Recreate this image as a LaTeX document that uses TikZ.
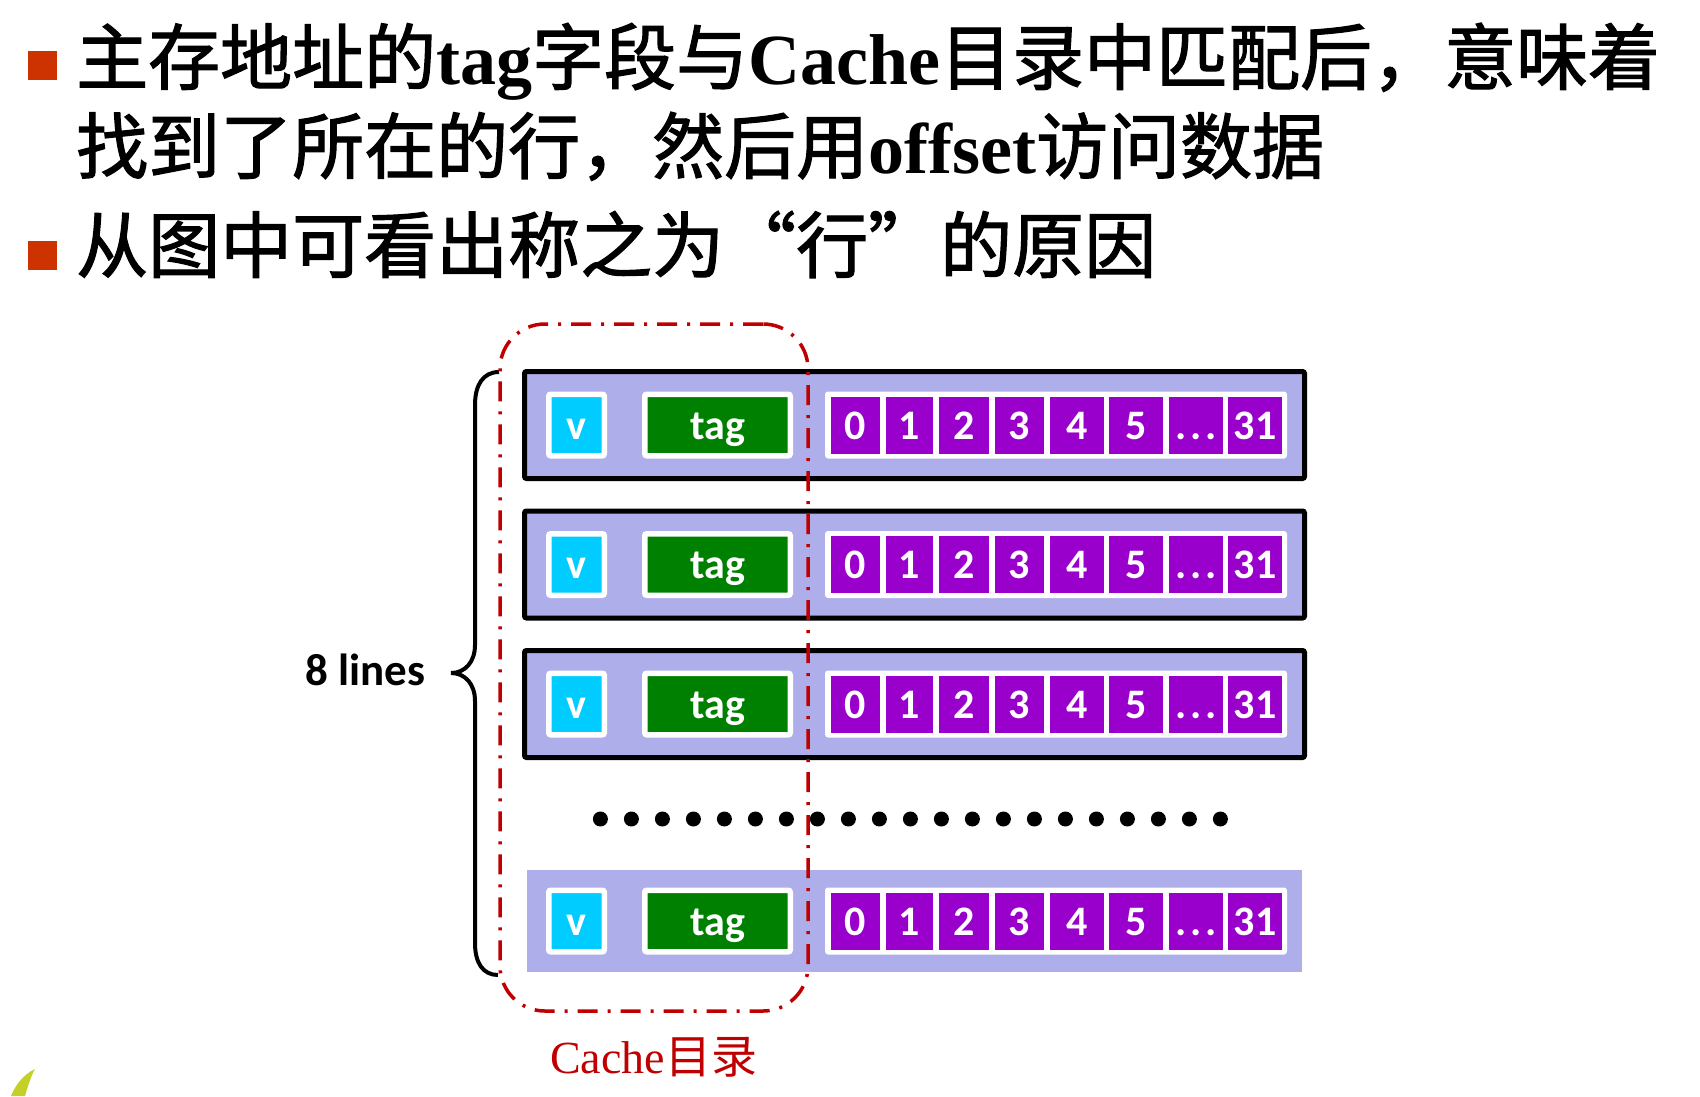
\documentclass[tikz,border=0pt]{standalone}
\usepackage{fontspec}
\setmainfont{Liberation Serif}
\newfontfamily\cjk{Noto Sans CJK SC}[FakeBold=1.6]
\newfontfamily\cjkplain{Noto Sans CJK SC}
\newfontfamily\calfont{Carlito}
\newcommand\latb[1]{{\rmfamily\bfseries #1}}
\newcommand\threedots{.\hspace{4pt}.\hspace{4pt}.}
\definecolor{bulletred}{RGB}{204,51,0}
\definecolor{lav}{RGB}{174,174,234}
\definecolor{vcyan}{RGB}{0,204,255}
\definecolor{tgreen}{RGB}{0,128,0}
\definecolor{cpurple}{RGB}{153,0,204}
\definecolor{dred}{RGB}{192,0,0}
\definecolor{leaf}{RGB}{196,208,40}
\begin{document}
\begin{tikzpicture}[x=1pt,y=-1pt,
 rowbox/.style={draw=black, line width=5pt, fill=lav, rounded corners=2pt, minimum width=780pt, minimum height=107pt, inner sep=0pt},
 rowbare/.style={fill=lav, minimum width=775pt, minimum height=102pt, inner sep=0pt},
 lbl/.style={font=\calfont\bfseries\fontsize{42}{42}\selectfont, text=white, text height=28.5pt, text depth=0pt, inner sep=0pt},
 vbox/.style={lbl, fill=vcyan, draw=white, line width=5.5pt, rounded corners=2pt, minimum width=55.5pt, minimum height=61.5pt},
 tagbox/.style={lbl, fill=tgreen, draw=white, line width=5.5pt, rounded corners=2pt, minimum width=145.5pt, minimum height=61.5pt},
 grpbox/.style={fill=white, rounded corners=3pt, minimum width=462pt, minimum height=67pt, inner sep=0pt},
 cell/.style={lbl, fill=cpurple, minimum height=57pt, minimum width=#1},
 bullet/.style={fill=bulletred, minimum size=29pt, inner sep=0pt},
 title/.style={anchor=base west, inner sep=0pt, font=\fontsize{72}{86}\selectfont},
 dirbox/.style={draw=dred, line width=3.5pt, rounded corners=45pt, dash pattern=on 20pt off 10pt on 3pt off 10pt, minimum width=308pt, minimum height=687pt, inner sep=0pt},
 cacheline/.pic={
   \node[vbox] (-v) at (576.5,0) {v};
   \node[tagbox] (-tag) at (717.5,0) {tag};
   \node[grpbox] (-grp) at (1056,0) {};
   \foreach \cx/\w/\t [count=\i] in {855.5/49/0, 909.5/47/1, 964/50/2, 1019.5/49/3, 1077/54/4, 1136/54/5, 1196/54/\threedots, 1255/54/31}
     \node[cell=\w pt] (-c\i) at (\cx,0) {\t};
 }
]
\useasboundingbox (0,0) rectangle (1700,1096);

% title text
\node[bullet] (b1) at (42,65.5) {};
\node[bullet] (b2) at (42,255) {};
\node[title] (t1) at (76,84) {\cjk 主存地址的\latb{tag}字段与\latb{Cache}目录中匹配后，意味着};
\node[title] (t2) at (76,173) {\cjk 找到了所在的行，然后用\latb{offset}访问数据};
\node[title] (t3) at (76,272) {\cjk 从图中可看出称之为\makebox[72pt][r]{“}行\makebox[72pt][l]{”}的原因};

% rows
\node[rowbox] (row1) at (914.5,425) {};
\node[rowbox] (row2) at (914.5,564.5) {};
\node[rowbox] (row3) at (914.5,704) {};
\node[rowbare] (row4) at (914.5,921) {};
\pic (r1) at (0,425) {cacheline};
\pic (r2) at (0,564.5) {cacheline};
\pic (r3) at (0,704) {cacheline};
\pic (r4) at (0,921) {cacheline};

% dots
\foreach \i in {0,...,20}
  \fill (600.4+31*\i,819) circle (7.5pt);

% brace
\draw[line width=4pt] (499,372) .. controls (483,372) and (475,385) .. (475,405)
  -- (475,645) .. controls (475,662) and (465,673) .. (451,673)
  .. controls (465,673) and (475,684) .. (475,701)
  -- (475,943) .. controls (475,963) and (483,975) .. (498,975);
\node[anchor=base west, inner sep=0pt, font=\calfont\bfseries\fontsize{45}{45}\selectfont] (lines) at (305,685) {8 lines};

% Cache directory
\node[dirbox] (dir) at (654,667.5) {};
\node[anchor=base west, inner sep=0pt, text=dred, font=\fontsize{46}{46}\selectfont] (dirlbl) at (550,1073) {Cache{\cjkplain 目录}};

% leaf decoration
\fill[leaf] (35,1069) .. controls (22,1075) and (14,1088) .. (11,1096) -- (25,1096) .. controls (28,1086) and (31,1076) .. (35,1069) -- cycle;
\end{tikzpicture}
\end{document}
